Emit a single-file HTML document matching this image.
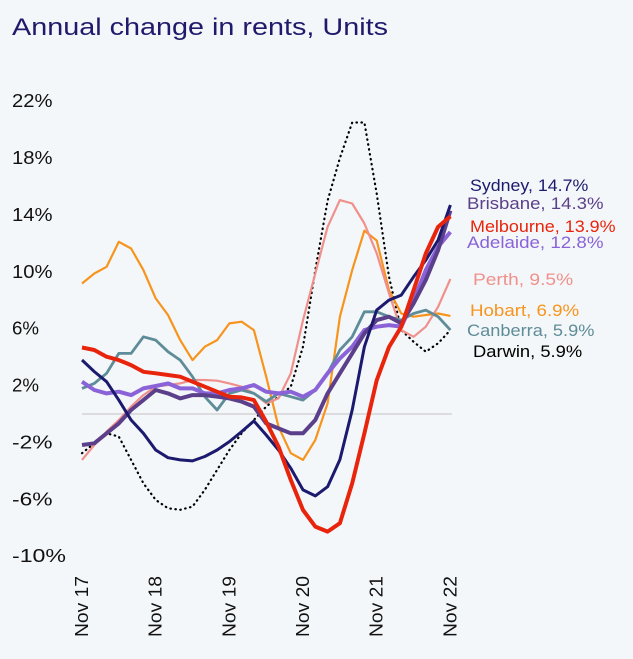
<!DOCTYPE html>
<html><head><meta charset="utf-8"><style>
body{margin:0;background:#f4f7f9;font-family:"Liberation Sans",sans-serif;}
svg{display:block}
</style></head><body>
<svg id="chart" width="633" height="659" viewBox="0 0 633 659">
<rect width="633" height="659" fill="#f4f7f9"/>
<text x="12" y="35" font-size="24" textLength="376" lengthAdjust="spacingAndGlyphs" fill="#1f1a6b">Annual change in rents, Units</text>
<g id="yaxis"></g><g id="xaxis"></g><g id="lines"></g><g id="labels"></g>
</svg>
<script>
const yTicks=[22,18,14,10,6,2,-2,-6,-10];
const xTicks=["Nov 17","Nov 18","Nov 19","Nov 20","Nov 21","Nov 22"];
const sydney=[3.8,2.98,2.27,0.98,-0.42,-1.36,-2.53,-3.07,-3.23,-3.3,-2.99,-2.53,-1.94,-1.24,-0.49,-1.48,-2.53,-3.82,-5.34,-5.76,-5.11,-3.21,0.28,4.73,7.31,8.01,8.36,9.65,10.82,12.23,14.7];
const melbourne=[4.68,4.5,4.03,3.79,3.44,2.97,2.86,2.74,2.62,2.27,1.92,1.57,1.22,1.17,0.98,-0.54,-2.29,-4.64,-6.75,-7.92,-8.27,-7.68,-4.87,-1.36,2.37,4.71,6.14,8.71,11.29,13.16,13.9];
const brisbane=[-2.18,-2.06,-1.36,-0.66,0.28,0.98,1.69,1.45,1.1,1.33,1.33,1.22,1.1,0.87,0.52,-0.66,-1.01,-1.36,-1.36,-0.42,1.45,2.86,4.26,5.67,6.6,6.84,6.37,7.78,9.42,11.52,14.3];
const adelaide=[2.27,1.69,1.45,1.57,1.33,1.8,1.97,2.15,1.8,1.8,1.45,1.45,1.69,1.8,2.04,1.57,1.45,1.57,1.22,1.69,2.86,3.91,4.73,5.9,6.14,6.25,6.14,8.01,10.12,11.76,12.8];
const perth=[-3.23,-2.18,-1.24,-0.42,0.52,1.33,1.92,2.04,2.15,2.39,2.39,2.34,2.15,1.92,1.45,0.75,1.1,2.86,6.6,9.88,13.16,15.04,14.8,13.4,11.3,8.48,5.9,5.43,6.14,7.54,9.5];
const hobart=[9.18,9.88,10.35,12.11,11.64,10.12,8.13,6.96,5.2,3.79,4.73,5.2,6.37,6.49,5.9,2.62,-0.89,-2.76,-3.23,-1.83,0.75,6.84,10.12,12.9,12.2,8.7,7.07,6.84,6.96,7.07,6.9];
const canberra=[1.8,2.15,2.86,4.26,4.26,5.43,5.2,4.38,3.79,2.62,1.22,0.28,1.45,1.69,1.45,0.87,1.45,1.22,0.98,1.69,2.86,4.5,5.43,7.19,7.19,6.84,6.6,7.07,7.31,6.84,5.9];
const darwin=[-2.76,-2.06,-1.36,-1.59,-3.23,-4.87,-6.04,-6.63,-6.74,-6.51,-5.34,-3.93,-2.53,-1.36,-0.42,0.52,1.22,1.92,4.73,10.12,15.0,18.0,20.5,20.5,15.5,9.65,5.9,5.08,4.38,4.97,5.9];
const names=["Sydney","Brisbane","Melbourne","Adelaide","Perth","Hobart","Canberra","Darwin"];
const labelVals=["14.7%","14.3%","13.9%","12.8%","9.5%","6.9%","5.9%","5.9%"];
const NS="http://www.w3.org/2000/svg";
const y=v=>414-v*14.22;
const x=i=>82+i*6.14*2;
function mk(t,a,p){const e=document.createElementNS(NS,t);for(const k in a)e.setAttribute(k,a[k]);p.appendChild(e);return e;}
const ya=document.getElementById('yaxis');
yTicks.forEach(v=>{const s=v+'%';const t=mk('text',{x:12,y:y(v)+6,'font-size':18,fill:'#111',textLength:s.length*13.5,lengthAdjust:'spacingAndGlyphs'},ya);t.textContent=s;

});
const zl=mk('line',{x1:82,x2:452,y1:y(0),y2:y(0),stroke:'#d4d4d6','stroke-width':1.5},ya);


const xa=document.getElementById('xaxis');
xTicks.forEach((l,i)=>{const px=x(i*6)+6;const t=mk('text',{x:0,y:0,'font-size':18,fill:'#111',textLength:61,lengthAdjust:'spacingAndGlyphs',transform:`translate(${px},637) rotate(-90)`},xa);t.textContent=l;

});
const series=[
 [darwin,'#000',2.2,'darwin-line',true],
 [hobart,'#f7941d',2.2,'hobart-line'],
 [perth,'#f0908c',2.2,'perth-line'],
 [canberra,'#5e8c98',2.8,'canberra-line'],
 [adelaide,'#8a63d8',4,'adelaide-line'],
 [brisbane,'#5b3f8a',4,'brisbane-line'],
 [sydney,'#1c1a6e',3,'sydney-line'],
 [melbourne,'#e8250c',4,'melbourne-line']];
const lg=document.getElementById('lines');
series.forEach(s=>{const d=s[0].map((v,i)=>(i?'L':'M')+x(i).toFixed(1)+','+y(v).toFixed(1)).join('');
const a={d:d,fill:'none',stroke:s[1],'stroke-width':s[2],'stroke-linejoin':'round'};
if(s[4]){a['stroke-dasharray']='0.5 4.5';a['stroke-linecap']='round';}
const p=mk('path',a,lg);

});
const lc=['#1c1a6e','#5b3f8a','#e8250c','#8a63d8','#f0908c','#f7941d','#5e8c98','#000'];
const ly=[191,209,232,248,285,316,336,357];
const lx=[470,467,470,467,473,470,467,473];
const lb=document.getElementById('labels');
names.forEach((n,i)=>{const s=n+', '+labelVals[i];const t=mk('text',{x:lx[i],y:ly[i],'font-size':17,fill:lc[i],textLength:s.length*9.1,lengthAdjust:'spacingAndGlyphs'},lb);t.textContent=s;

});
</script>
</body></html>
